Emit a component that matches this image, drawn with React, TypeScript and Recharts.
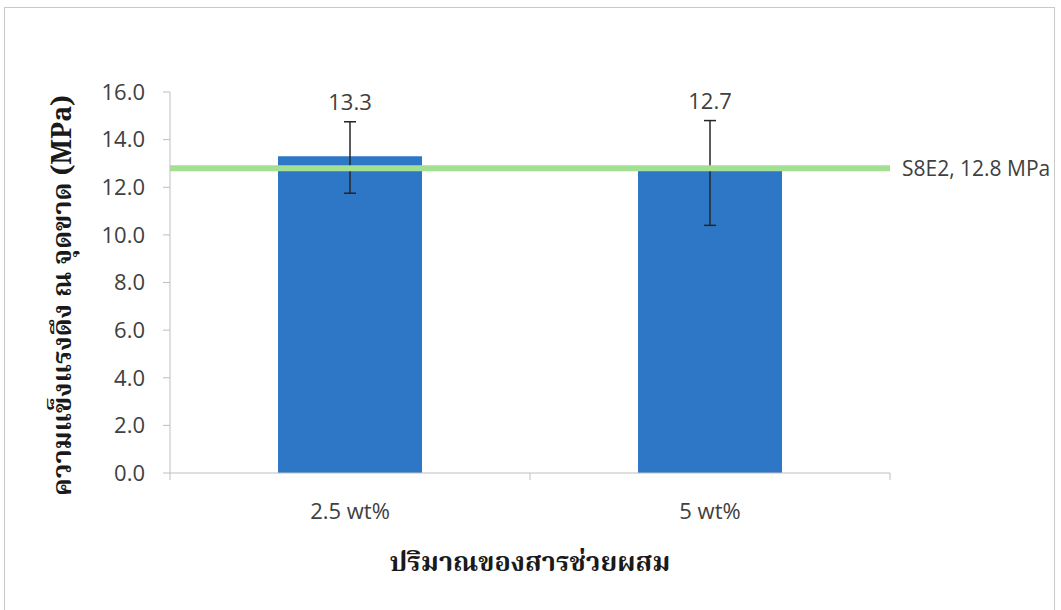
import React from 'react';
import {
  BarChart,
  Bar,
  XAxis,
  YAxis,
  ErrorBar,
  ReferenceLine,
  LabelList,
  Label,
} from 'recharts';

// categories + values
const categories = ['2.5 wt%', '5 wt%'];
const strength = [13.3, 12.7];
const errLow = [1.55, 2.3];
const errHigh = [1.45, 2.1];
const yTicks = [0, 2, 4, 6, 8, 10, 12, 14, 16];
const refValue = 12.8;
const refName = 'S8E2';

const data = categories.map((c, i) => ({
  name: c,
  value: strength[i],
  err: [errLow[i], errHigh[i]],
}));

const TEXT = '#404040';
const SANS = '"Open Sans", "Noto Sans", sans-serif';
const THAI = '"Noto Serif Thai", "Noto Sans Thai", "TH Sarabun New", Loma, Garuda, "Tlwg Typo", serif';

const TICK_SIZE = 6;
const TICK_MARGIN = 24;

// x tick: label at category center, tick marks at category boundaries (Excel style)
const CategoryTick = (props: any) => {
  const { x, y, payload, index, visibleTicksCount } = props;
  const half = payload?.offset ?? 0;
  const axisY = y - TICK_SIZE - TICK_MARGIN;
  const isLast = index === (visibleTicksCount ?? 2) - 1;
  return (
    <g>
      {half > 0 && (
        <line x1={x - half} x2={x - half} y1={axisY} y2={axisY + 7} stroke="#bfbfbf" />
      )}
      {half > 0 && isLast && (
        <line x1={x + half} x2={x + half} y1={axisY} y2={axisY + 7} stroke="#bfbfbf" />
      )}
      <text x={x} y={y} dy="0.71em" textAnchor="middle" fill={TEXT} fontSize={22} fontFamily={SANS}>
        {payload.value}
      </text>
    </g>
  );
};

// value label sits just above the upper whisker
const ValueLabel = (props: any) => {
  const { x, y, width, height, value, index } = props;
  const ppu = height / value;
  const top = y - errHigh[index] * ppu;
  return (
    <text x={x + width / 2} y={top - 12} textAnchor="middle" fill={TEXT} fontSize={22} fontFamily={SANS}>
      {Number(value).toFixed(1)}
    </text>
  );
};

const App: React.FC = () => {
  return (
    <div style={{ position: 'absolute', left: 0, top: 0, width: 1061, height: 610, background: '#fff', overflow: 'hidden' }}>
      {/* chart frame */}
      <div style={{
        position: 'absolute',
        left: 4,
        top: 7,
        width: 1051,
        height: 640,
        border: '1px solid #c9c9c9',
        boxSizing: 'border-box',
      }} />
      <div style={{ position: 'absolute', left: 0, top: 0 }}>
        <BarChart
          width={1061}
          height={610}
          data={data}
          margin={{ top: 92, right: 171, bottom: 97, left: 20 }}
        >
          <XAxis
            dataKey="name"
            height={40}
            axisLine={{ stroke: '#bfbfbf' }}
            tickLine={false}
            tickSize={TICK_SIZE}
            tickMargin={TICK_MARGIN}
            tick={<CategoryTick />}
            interval={0}
          >
            <Label
              content={(p: any) => {
                const vb = p.viewBox;
                return (
                  <text
                    x={vb.x + vb.width / 2}
                    y={vb.y + 90}
                    textAnchor="middle"
                    dominantBaseline="central"
                    fill="#1a1a1a"
                    fontSize={27}
                    fontWeight="bold"
                    fontFamily={THAI}
                  >
                    ปริมาณของสารช่วยผสม
                  </text>
                );
              }}
            />
          </XAxis>
          <YAxis
            width={150}
            domain={[0, 16]}
            ticks={yTicks}
            interval={0}
            tickFormatter={(v: number) => v.toFixed(1)}
            axisLine={{ stroke: '#bfbfbf' }}
            tickLine={{ stroke: '#bfbfbf' }}
            tickSize={7}
            tickMargin={18}
            tick={{ fill: TEXT, fontSize: 22, fontFamily: SANS }}
          >
            <Label
              content={(p: any) => {
                const vb = p.viewBox;
                const cx = vb.x + 43;
                const cy = vb.y + vb.height / 2 + 13;
                return (
                  <text
                    x={cx}
                    y={cy}
                    transform={`rotate(-90 ${cx} ${cy})`}
                    textAnchor="middle"
                    dominantBaseline="central"
                    fill="#1a1a1a"
                    fontSize={27}
                    fontWeight="bold"
                    fontFamily={THAI}
                  >
                    ความแข็งแรงดึง  ณ จุดขาด (MPa)
                  </text>
                );
              }}
            />
          </YAxis>
          <Bar dataKey="value" fill="#2e77c6" barSize={144} isAnimationActive={false}>
            <ErrorBar dataKey="err" width={6} stroke="#262626" strokeWidth={1.5} />
            <LabelList dataKey="value" content={<ValueLabel />} />
          </Bar>
          <ReferenceLine
            y={refValue}
            stroke="#a3e094"
            strokeWidth={6}
            label={{
              value: `${refName}, ${refValue.toFixed(1)} MPa`,
              position: 'right',
              offset: 12,
              fill: TEXT,
              fontSize: 21,
              fontFamily: SANS,
            }}
          />
        </BarChart>
      </div>
    </div>
  );
};

export default App;
